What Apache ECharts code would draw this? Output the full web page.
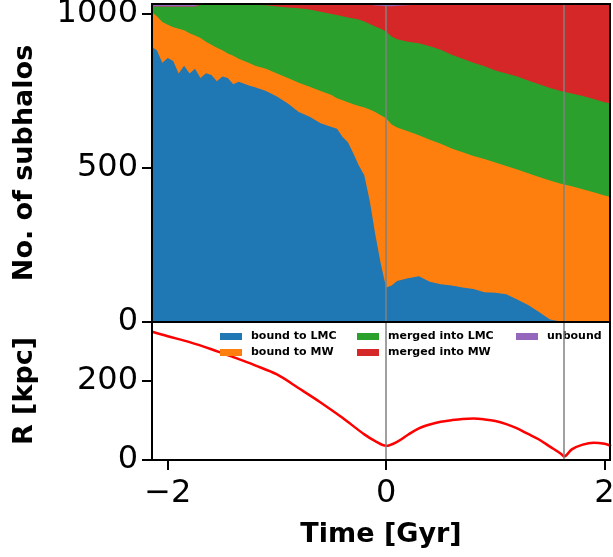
<!DOCTYPE html>
<html>
<head>
<meta charset="utf-8">
<script src="https://cdn.jsdelivr.net/npm/echarts@6.0.0/dist/echarts.min.js"></script>
<style>
  html, body { margin: 0; padding: 0; background: #fff; }
  #chart { width: 613px; height: 557px; }
</style>
</head>
<body>
<div id="chart"></div>
<script>
// time grid of the stack plot [Gyr]
const times = [-2.15, -2.10, -2.05, -2.00, -1.95, -1.90, -1.85, -1.80, -1.75, -1.70,
  -1.65, -1.60, -1.55, -1.50, -1.45, -1.40, -1.35, -1.30, -1.25, -1.20,
  -1.10, -1.00, -0.90, -0.80, -0.70, -0.60, -0.50, -0.45, -0.40, -0.35,
  -0.30, -0.25, -0.20, -0.15, -0.10, -0.05, 0.00, 0.05, 0.10, 0.20,
  0.30, 0.40, 0.50, 0.60, 0.70, 0.80, 0.90, 1.00, 1.10, 1.20,
  1.30, 1.40, 1.50, 1.60, 1.70, 1.80, 1.90, 2.00, 2.06];

// number of subhalos in each class
const boundLMC = [892, 880, 840, 855, 845, 805, 830, 805, 820, 790,
  806, 800, 780, 795, 790, 770, 778, 772, 765, 760,
  748, 730, 708, 680, 665, 644, 632, 626, 600, 582,
  546, 507, 475, 392, 285, 190, 112, 118, 133, 142,
  148, 130, 122, 118, 112, 107, 96, 95, 90, 73,
  55, 32, 8, 2, 1, 3, 1, 0, 0];
const boundMW = [113, 110, 132, 108, 110, 145, 115, 130, 108, 130,
  102, 98, 108, 85, 80, 92, 75, 73, 73, 70,
  72, 75, 82, 95, 97, 104, 103, 99, 118, 130,
  159, 193, 220, 296, 395, 480, 548, 522, 497, 476,
  457, 460, 455, 444, 438, 431, 432, 422, 415, 421,
  427, 438, 450, 446, 439, 427, 419, 410, 405];
const mergedLMC = [14, 32, 49, 58, 66, 71, 76, 86, 93, 107,
  119, 129, 139, 147, 157, 165, 174, 182, 189, 197,
  206, 217, 229, 241, 250, 257, 263, 269, 272, 274,
  278, 280, 278, 277, 277, 280, 281, 285, 286, 290,
  298, 303, 305, 304, 303, 302, 300, 298, 300, 301,
  300, 300, 300, 300, 300, 302, 302, 302, 303];
const mergedMW = [3, 0, 1, 1, 1, 1, 1, 1, 1, 2,
  2, 2, 2, 2, 2, 2, 2, 2, 2, 2,
  3, 7, 10, 13, 17, 24, 31, 35, 39, 43,
  46, 49, 56, 64, 68, 74, 82, 98, 108, 118,
  125, 136, 147, 163, 176, 189, 201, 214, 224, 234,
  247, 259, 271, 281, 289, 297, 307, 317, 321];
const unbound = [8, 8, 8, 8, 8, 8, 8, 8, 8, 1,
  1, 1, 1, 1, 1, 1, 1, 1, 1, 1,
  1, 1, 1, 1, 1, 1, 1, 1, 1, 1,
  1, 1, 1, 1, 5, 6, 7, 7, 6, 4,
  2, 1, 1, 1, 1, 1, 1, 1, 1, 1,
  1, 1, 1, 1, 1, 1, 1, 1, 1];

// LMC distance
const rTimes = [-2.15, -2.0, -1.8, -1.6, -1.4, -1.2, -1.0, -0.8, -0.6, -0.4,
  -0.2, -0.1, 0.0, 0.1, 0.2, 0.3, 0.4, 0.5, 0.6, 0.7,
  0.8, 0.9, 1.0, 1.1, 1.2, 1.3, 1.4, 1.5, 1.6, 1.63,
  1.7, 1.8, 1.9, 2.0, 2.06];
const rValues = [326, 314, 299, 281, 261, 240, 217, 182, 146, 107,
  65, 48, 36, 46, 64, 80, 90, 97, 101, 104,
  105, 103, 99, 91, 80, 66, 52, 34, 16, 9,
  27, 39, 44, 41, 35];

// vertical markers
const markerTimes = [0, 1.63];

const stackNames = ['bound to LMC', 'bound to MW', 'merged into LMC', 'merged into MW', 'unbound'];
const stackColors = ['#1f77b4', '#ff7f0e', '#2ca02c', '#d62728', '#9467bd'];
const stackValues = [boundLMC, boundMW, mergedLMC, mergedMW, unbound];

const countTicks = [0, 500, 1000];
const rTicks = [0, 200];
const timeTicks = [-2, 0, 2];

const FONT = 'DejaVu Sans';
const X_MIN = -2.144, X_MAX = 2.05;

let chart = echarts.init(document.getElementById('chart'));

// running sums, like stackplot: each layer sits on the ones below it
let running = times.map(() => 0);
let layers = stackNames.map((name, k) => {
  running = running.map((s, i) => s + stackValues[k][i]);
  return {
    name: name,
    type: 'line',
    xAxisIndex: 0,
    yAxisIndex: 0,
    showSymbol: false,
    symbol: 'none',
    lineStyle: { width: 0 },
    areaStyle: { color: stackColors[k], opacity: 1 },
    itemStyle: { color: stackColors[k] },
    data: times.map((t, i) => [t, running[i]])
  };
});
// draw the tallest first so the lower layers cover it
let series = layers.slice().reverse();

const markLine = {
  silent: true,
  symbol: 'none',
  label: { show: false },
  lineStyle: { color: '#808080', width: 1.5, type: 'solid' },
  data: markerTimes.map(t => ({ xAxis: t }))
};
series[series.length - 1].markLine = markLine;

series.push({
  name: 'R',
  type: 'line',
  xAxisIndex: 1,
  yAxisIndex: 1,
  showSymbol: false,
  symbol: 'none',
  smooth: 0.35,
  lineStyle: { color: '#ff0000', width: 2.5 },
  data: rTimes.map((t, i) => [t, rValues[i]]),
  markLine: markLine
});

const legendBase = {
  orient: 'vertical',
  top: 326,
  icon: 'rect',
  itemWidth: 22,
  itemHeight: 7,
  itemGap: 5,
  selectedMode: false,
  textStyle: { fontSize: 11, fontWeight: 'bold', fontFamily: FONT, color: '#000', padding: [0, 0, 0, 4] }
};

const numFmt = v => String(v).replace('-', '\u2212');

let option = {
  animation: false,
  backgroundColor: '#fff',
  color: stackColors,
  legend: [
    Object.assign({}, legendBase, { left: 215, data: ['bound to LMC', 'bound to MW'] }),
    Object.assign({}, legendBase, { left: 352, data: ['merged into LMC', 'merged into MW'] }),
    Object.assign({}, legendBase, { left: 511, data: ['unbound'] })
  ],
  grid: [
    { left: 152, right: 3, top: 4, height: 318, outerBoundsMode: 'none', show: true, borderColor: '#000', borderWidth: 2, backgroundColor: 'transparent', z: 10 },
    { left: 152, right: 3, top: 322, height: 138, outerBoundsMode: 'none', show: true, borderColor: '#000', borderWidth: 2, backgroundColor: 'transparent', z: 10 }
  ],
  xAxis: [
    {
      gridIndex: 0, type: 'value', min: X_MIN, max: X_MAX,
      axisLine: { show: false }, axisTick: { show: false }, axisLabel: { show: false }, splitLine: { show: false }
    },
    {
      gridIndex: 1, type: 'value', min: X_MIN, max: X_MAX,
      axisLine: { show: false },
      axisTick: { show: true, length: 10, customValues: timeTicks, lineStyle: { color: '#000', width: 2 } },
      axisLabel: { customValues: timeTicks, fontSize: 32, fontFamily: FONT, color: '#000', margin: 18, formatter: numFmt },
      splitLine: { show: false },
      name: 'Time [Gyr]', nameLocation: 'middle', nameGap: 61,
      nameTextStyle: { fontSize: 27, fontWeight: 'bold', fontFamily: FONT, color: '#000' }
    }
  ],
  yAxis: [
    {
      gridIndex: 0, type: 'value', min: 0, max: 1030,
      axisLine: { show: false, onZero: false },
      axisTick: { show: true, length: 10, customValues: countTicks, lineStyle: { color: '#000', width: 2 } },
      axisLabel: { customValues: countTicks, fontSize: 32, fontFamily: FONT, color: '#000', margin: 14, formatter: numFmt },
      splitLine: { show: false },
      name: 'No. of subhalos', nameLocation: 'middle', nameGap: 114,
      nameTextStyle: { fontSize: 27, fontWeight: 'bold', fontFamily: FONT, color: '#000' }
    },
    {
      gridIndex: 1, type: 'value', min: 0, max: 350,
      axisLine: { show: false, onZero: false },
      axisTick: { show: true, length: 10, customValues: rTicks, lineStyle: { color: '#000', width: 2 } },
      axisLabel: { customValues: rTicks, fontSize: 32, fontFamily: FONT, color: '#000', margin: 14, formatter: numFmt },
      splitLine: { show: false },
      name: 'R [kpc]', nameLocation: 'middle', nameGap: 114,
      nameTextStyle: { fontSize: 27, fontWeight: 'bold', fontFamily: FONT, color: '#000' }
    }
  ],
  series: series
};

chart.setOption(option);
</script>
</body>
</html>
